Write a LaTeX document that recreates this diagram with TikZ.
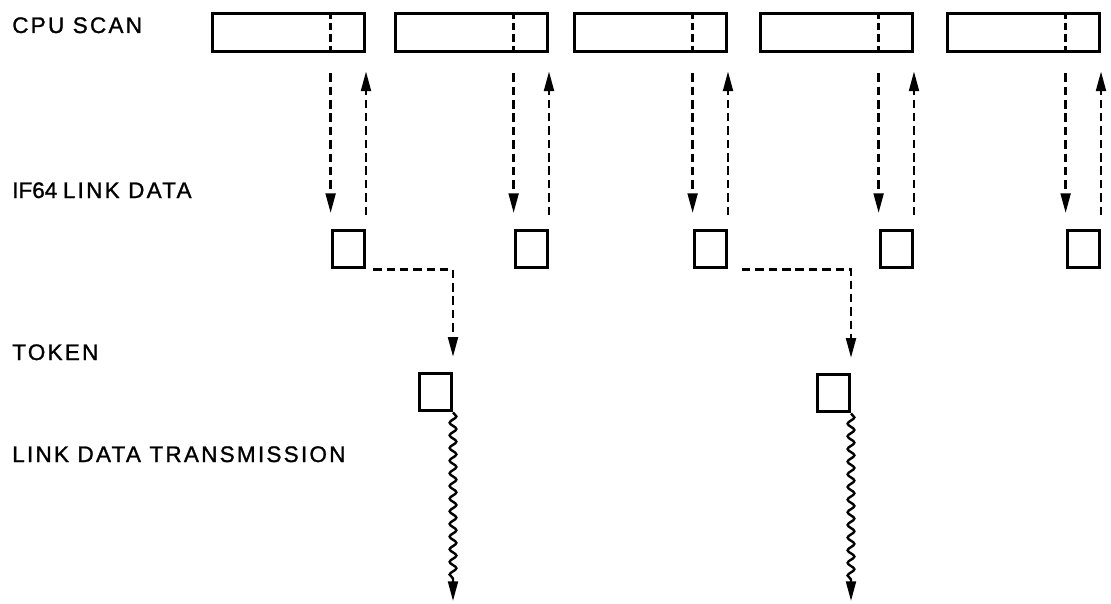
\documentclass[tikz,border=0pt]{standalone}
\usepackage{fontspec}
\setmainfont{Liberation Sans}
\newfontfamily\lblfont[LetterSpace=10,FakeBold=1.2]{Liberation Sans}
\newfontfamily\ifont[FakeBold=1.2]{Liberation Sans}
\usetikzlibrary{arrows.meta,decorations.pathmorphing}

\tikzset{
  scanbox/.style={draw, line width=2.4pt, minimum width=3.8cm, minimum height=0.95cm, inner sep=0pt, anchor=north east},
  databox/.style={draw, line width=2.4pt, minimum width=0.8cm, minimum height=0.925cm, inner sep=0pt, anchor=north east},
  lbl/.style={anchor=base west, inner sep=0pt, font=\lblfont\fontsize{16pt}{19pt}\selectfont},
  divide/.style={line width=1.7pt, dash pattern=on 5pt off 3pt},
  dsh/.style={line width=1.7pt, dash pattern=on 6pt off 3.5pt, -{Triangle[length=14pt,width=7pt]}},
  wave/.style={line width=1.7pt, decorate, decoration={snake, amplitude=2.4pt, segment length=9pt, post length=14pt}, -{Triangle[length=14pt,width=7pt]}},
}

\begin{document}
\begin{tikzpicture}[x=0.025cm,y=-0.025cm]
\useasboundingbox (0,0) rectangle (1111,604);
% row labels
\node[lbl] (lblcpu) at (12,33) {CPU SCAN};
\node[lbl] (lbllink) at (12,198) {{\ifont IF64}\kern4pt LINK DATA};
\node[lbl] (lbltok) at (12,360) {TOKEN};
\node[lbl] (lbltx) at (12,462) {LINK DATA TRANSMISSION};
% cpu scan
\node[scanbox] (cpu1) at (366,12) {};
\node[scanbox] (cpu2) at (549,12) {};
\node[scanbox] (cpu3) at (728,12) {};
\node[scanbox] (cpu4) at (914,12) {};
\node[scanbox] (cpu5) at (1101,12) {};
% link data
\node[databox] (lk1) at (366,229) {};
\node[databox] (lk2) at (549,229) {};
\node[databox] (lk3) at (728,229) {};
\node[databox] (lk4) at (914,229) {};
\node[databox] (lk5) at (1101,229) {};
% token
\node[databox] (tok1) at (453,372) {};
\node[databox] (tok2) at (851,373) {};
% scan to link data and back
\draw[divide] (lk1.north west |- cpu1.north) -- (lk1.north west |- cpu1.south);
\draw[dsh, shorten <=0.5cm, shorten >=0.4cm] (lk1.north west |- cpu1.south) -- (lk1.north west);
\draw[dsh, shorten <=0.35cm, shorten >=0.45cm] (lk1.north east) -- (lk1.north east |- cpu1.south);
\draw[divide] (lk2.north west |- cpu2.north) -- (lk2.north west |- cpu2.south);
\draw[dsh, shorten <=0.5cm, shorten >=0.4cm] (lk2.north west |- cpu2.south) -- (lk2.north west);
\draw[dsh, shorten <=0.35cm, shorten >=0.45cm] (lk2.north east) -- (lk2.north east |- cpu2.south);
\draw[divide] (lk3.north west |- cpu3.north) -- (lk3.north west |- cpu3.south);
\draw[dsh, shorten <=0.5cm, shorten >=0.4cm] (lk3.north west |- cpu3.south) -- (lk3.north west);
\draw[dsh, shorten <=0.35cm, shorten >=0.45cm] (lk3.north east) -- (lk3.north east |- cpu3.south);
\draw[divide] (lk4.north west |- cpu4.north) -- (lk4.north west |- cpu4.south);
\draw[dsh, shorten <=0.5cm, shorten >=0.4cm] (lk4.north west |- cpu4.south) -- (lk4.north west);
\draw[dsh, shorten <=0.35cm, shorten >=0.45cm] (lk4.north east) -- (lk4.north east |- cpu4.south);
\draw[divide] (lk5.north west |- cpu5.north) -- (lk5.north west |- cpu5.south);
\draw[dsh, shorten <=0.5cm, shorten >=0.4cm] (lk5.north west |- cpu5.south) -- (lk5.north west);
\draw[dsh, shorten <=0.35cm, shorten >=0.45cm] (lk5.north east) -- (lk5.north east |- cpu5.south);
% link data to token
\draw[dsh, shorten <=0.18cm, shorten >=0.38cm] (lk1.south east) -| (tok1.north east);
\draw[dsh, shorten <=0.35cm, shorten >=0.38cm] (lk3.south east) -| (tok2.north east);
% transmission
\coordinate (tx1) at (tok1.south east |- 0,601);
\coordinate (tx2) at (tok2.south east |- 0,601);
\draw[wave] (tok1.south east) -- (tx1);
\draw[wave] (tok2.south east) -- (tx2);
\end{tikzpicture}
\end{document}
